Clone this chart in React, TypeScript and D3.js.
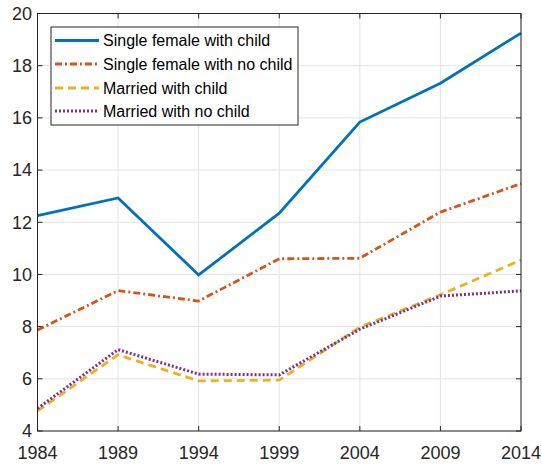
import React from "react";
import * as d3 from "d3";

const years = [1984, 1989, 1994, 1999, 2004, 2009, 2014];
const singleFemaleChild = [12.25, 12.93, 9.98, 12.35, 15.84, 17.33, 19.25];
const singleFemaleNoChild = [7.87, 9.38, 8.98, 10.6, 10.62, 12.39, 13.48];
const marriedChild = [4.77, 6.92, 5.92, 5.95, 7.98, 9.22, 10.55];
const marriedNoChild = [4.86, 7.12, 6.18, 6.15, 7.9, 9.17, 9.37];
const yTicks = [4, 6, 8, 10, 12, 14, 16, 18, 20];
const seriesNames = [
  "Single female with child",
  "Single female with no child",
  "Married with child",
  "Married with no child",
];

const colors = ["#0072BD", "#D95319", "#EDB120", "#7E2F8E"];
const dashes = ["none", "7 3 2 3", "8 5", "2 2"];

export default function App() {
  const W = 542, H = 469;
  const left = 37.5, right = 521, top = 13.5, bottom = 431;
  const x = d3.scaleLinear().domain([1984, 2014]).range([left, right]);
  const y = d3.scaleLinear().domain([4, 20]).range([bottom, top]);
  const allSeries = [singleFemaleChild, singleFemaleNoChild, marriedChild, marriedNoChild];
  const line = d3
    .line<number>()
    .x((_, i) => x(years[i]))
    .y((d) => y(d));
  const font = "'Liberation Sans', Arial, Helvetica, sans-serif";
  const tickLen = 5;
  const axisColor = "#262626";
  const legX = 51, legY = 27, legW = 247, legH = 98;
  const rowYs = [40.5, 64, 88, 111];

  return (
    <svg width={W} height={H} style={{ position: "absolute", left: 0, top: 0 }}>
      <rect x={0} y={0} width={W} height={H} fill="#fff" />
      {/* grid */}
      {years.map((yr) => (
        <line key={"gx" + yr} x1={x(yr)} x2={x(yr)} y1={top} y2={bottom} stroke="#e3e3e3" strokeWidth={1} />
      ))}
      {yTicks.map((t) => (
        <line key={"gy" + t} x1={left} x2={right} y1={y(t)} y2={y(t)} stroke="#e3e3e3" strokeWidth={1} />
      ))}
      {/* series */}
      {allSeries.map((s, i) => (
        <path
          key={"s" + i}
          d={line(s) || ""}
          fill="none"
          stroke={colors[i]}
          strokeWidth={i === 3 ? 3 : 2.8}
          strokeDasharray={dashes[i]}
        />
      ))}
      {/* axes box */}
      <rect x={left} y={top} width={right - left} height={bottom - top} fill="none" stroke={axisColor} strokeWidth={1} />
      {years.map((yr) => (
        <g key={"xt" + yr}>
          <line x1={x(yr)} x2={x(yr)} y1={bottom} y2={bottom - tickLen} stroke={axisColor} />
          <line x1={x(yr)} x2={x(yr)} y1={top} y2={top + tickLen} stroke={axisColor} />
          <text x={x(yr)} y={459} textAnchor="middle" fontFamily={font} fontSize={18} fill={axisColor}>
            {yr}
          </text>
        </g>
      ))}
      {yTicks.map((t) => (
        <g key={"yt" + t}>
          <line x1={left} x2={left + tickLen} y1={y(t)} y2={y(t)} stroke={axisColor} />
          <line x1={right} x2={right - tickLen} y1={y(t)} y2={y(t)} stroke={axisColor} />
          <text x={32} y={y(t)} dy="0.35em" textAnchor="end" fontFamily={font} fontSize={18} fill={axisColor}>
            {t}
          </text>
        </g>
      ))}
      {/* legend */}
      <rect x={legX} y={legY} width={legW} height={legH} fill="#fff" stroke={axisColor} strokeWidth={1} />
      {seriesNames.map((name, i) => (
        <g key={"lg" + i}>
          <line
            x1={55}
            x2={99}
            y1={rowYs[i]}
            y2={rowYs[i]}
            stroke={colors[i]}
            strokeWidth={i === 3 ? 3 : 2.8}
            strokeDasharray={dashes[i]}
          />
          <text x={103} y={rowYs[i]} dy="0.35em" fontFamily={font} fontSize={16} fill="#000">
            {name}
          </text>
        </g>
      ))}
    </svg>
  );
}
